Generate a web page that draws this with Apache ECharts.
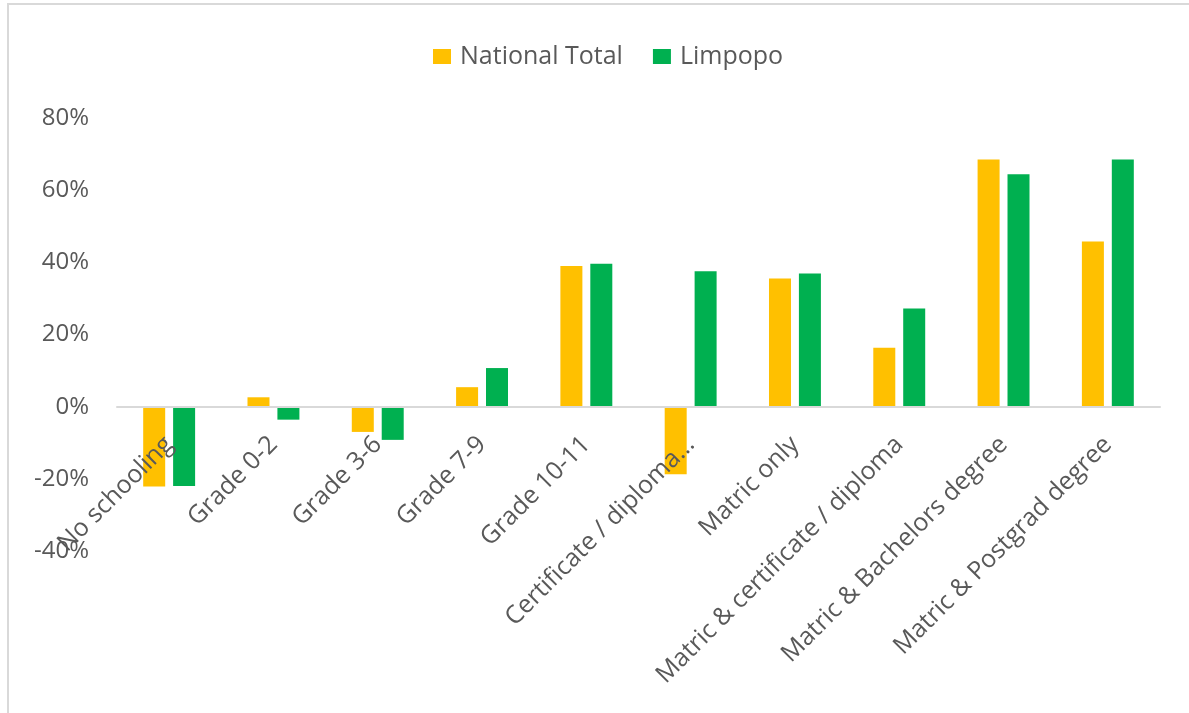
<!DOCTYPE html>
<html>
<head>
<meta charset="utf-8">
<script src="https://cdn.jsdelivr.net/npm/echarts@6/dist/echarts.min.js"></script>
<style>
  html, body { margin: 0; padding: 0; background: #fff; }
  #chart { width: 1189px; height: 713px; }
</style>
</head>
<body>
<div id="chart"></div>
<script>
  // categories (education level)
  var categories = ['No schooling', 'Grade 0-2', 'Grade 3-6', 'Grade 7-9', 'Grade 10-11',
    'Certificate / diploma...', 'Matric only', 'Matric & certificate / diploma',
    'Matric & Bachelors degree', 'Matric & Postgrad degree'];
  // percentage values
  var nationalTotal = [-22.1, 2.6, -7.0, 5.4, 39.0, -18.7, 35.5, 16.3, 68.5, 45.8];
  var limpopo = [-22.0, -3.6, -9.2, 10.7, 39.6, 37.5, 36.9, 27.2, 64.4, 68.5];
  var yTicks = [-40, -20, 0, 20, 40, 60, 80];

  var labelFont = "'Open Sans', sans-serif";
  var textColor = '#595959';

  // plot area (px)
  var gridTop = 118, gridBottom = 162, chartH = 713;
  // distance from the bottom of the plot to the 0% line
  var plotH = chartH - gridTop - gridBottom;
  var zeroOffset = plotH * (0 - yTicks[0]) / (yTicks[yTicks.length - 1] - yTicks[0]);

  var chart = echarts.init(document.getElementById('chart'));
  var option = {
    backgroundColor: '#fff',
    animation: false,
    color: ['#FFC000', '#00B050'],
    //图表外框
    graphic: [{
      type: 'rect',
      shape: { x: 8, y: 4, width: 1200, height: 730 },
      style: { fill: 'none', stroke: '#D9D9D9', lineWidth: 2 },
      silent: true
    }],
    legend: {
      top: 39,
      left: 428,
      itemWidth: 18,
      itemHeight: 15,
      itemGap: 30,
      icon: 'rect',
      textStyle: { fontFamily: labelFont, fontSize: 25, color: textColor, padding: [0, 0, 0, 4] }
    },
    grid: {
      left: 117,
      right: 29,
      top: gridTop,
      bottom: gridBottom,
      containLabel: false,
      outerBoundsMode: 'none'
    },
    xAxis: {
      type: 'category',
      data: categories,
      position: 'bottom',
      offset: -zeroOffset,
      z: 5,
      axisLine: { onZero: false, lineStyle: { color: '#D9D9D9', width: 2 } },
      axisTick: { show: false },
      axisLabel: {
        rotate: 45,
        interval: 0,
        margin: 34,
        fontFamily: labelFont,
        fontSize: 25,
        color: textColor
      }
    },
    yAxis: {
      type: 'value',
      min: yTicks[0],
      max: yTicks[yTicks.length - 1],
      interval: 20,
      splitLine: { show: false },
      axisLine: { show: false },
      axisTick: { show: false },
      axisLabel: {
        margin: 28,
        formatter: '{value}%',
        fontFamily: labelFont,
        fontSize: 24,
        color: textColor
      }
    },
    series: [
      {
        name: 'National Total',
        type: 'bar',
        barWidth: 22,
        barGap: '36%',
        data: nationalTotal
      },
      {
        name: 'Limpopo',
        type: 'bar',
        barWidth: 22,
        barGap: '36%',
        data: limpopo
      }
    ]
  };
  chart.setOption(option);
</script>
</body>
</html>
